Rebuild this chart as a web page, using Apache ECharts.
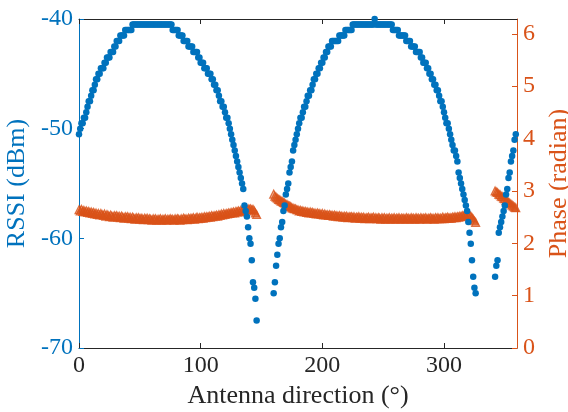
<!DOCTYPE html>
<html>
<head>
<meta charset="utf-8">
<script src="https://cdn.jsdelivr.net/npm/echarts@6/dist/echarts.min.js"></script>
<style>
  html, body { margin: 0; padding: 0; background: #fff; }
  #chart { width: 568px; height: 412px; }
</style>
</head>
<body>
<div id="chart"></div>
<script>
// Antenna sweep: RSSI (left axis, dBm) and phase (right axis, radian), sampled every 1 degree.
// Readings are grouped in three contiguous runs; the tag was not read between them.
const segmentStarts = [0, 160, 342];

const rssiSeg1 = [
  -50.5, -50.0, -49.5, -49.5, -49.0, -49.0, -48.5, -48.0, -47.5, -47.5,
  -47.0, -46.5, -46.5, -46.0, -45.5, -45.5, -45.0, -45.0, -44.5, -44.5,
  -44.5, -44.0, -44.0, -43.5, -43.5, -43.5, -43.0, -43.0, -43.0, -42.5,
  -42.5, -42.0, -42.0, -42.0, -41.5, -41.5, -41.5, -41.5, -41.0, -41.0,
  -41.0, -41.0, -41.0, -41.0, -40.5, -40.5, -40.5, -40.5, -40.5, -40.5,
  -40.5, -40.5, -40.5, -40.5, -40.5, -40.5, -40.5, -40.5, -40.5, -40.5,
  -40.5, -40.5, -40.5, -40.5, -40.5, -40.5, -40.5, -40.5, -40.5, -40.5,
  -40.5, -40.5, -40.5, -40.5, -40.5, -40.5, -40.5, -41.0, -41.0, -41.0,
  -41.0, -41.0, -41.5, -41.5, -41.5, -41.5, -42.0, -42.0, -42.0, -42.0,
  -42.5, -42.5, -42.5, -42.5, -43.0, -43.0, -43.0, -43.0, -43.5, -43.5,
  -44.0, -44.0, -44.0, -44.5, -44.5, -44.5, -45.0, -45.0, -45.0, -45.5,
  -45.5, -46.0, -46.0, -46.5, -46.5, -47.0, -47.5, -47.5, -48.0, -48.0,
  -48.5, -49.0, -49.0, -49.5, -50.0, -50.5, -51.0, -51.5, -52.0, -52.5,
  -53.0, -53.5, -54.0, -54.5, -55.0, -55.5, -57.0, -57.5, -58.0, -59.0,
  -60.0, -60.5, -62.0, -64.0, -64.5, -65.5, -67.5
];
const rssiSeg2 = [
  -65.0, -64.0, -62.5, -61.5, -60.5, -60.0, -59.0, -58.5, -57.5, -57.0,
  -56.0, -55.5, -55.0, -54.0, -53.5, -53.0, -52.0, -51.5, -51.0, -50.5,
  -50.0, -49.5, -49.0, -49.0, -48.5, -48.0, -48.0, -47.5, -47.0, -47.0,
  -46.5, -46.5, -46.0, -45.5, -45.5, -45.0, -45.0, -44.5, -44.5, -44.0,
  -44.0, -43.5, -43.5, -43.0, -43.0, -42.5, -42.5, -42.5, -42.0, -42.0,
  -42.0, -42.0, -42.0, -42.0, -41.5, -41.5, -41.5, -41.5, -41.5, -41.0,
  -41.0, -41.0, -41.0, -41.0, -41.0, -40.5, -40.5, -40.5, -40.5, -40.5,
  -40.5, -40.5, -40.5, -40.5, -40.5, -40.5, -40.5, -40.5, -40.5, -40.5,
  -40.5, -40.5, -40.5, -40.0, -40.5, -40.5, -40.5, -40.5, -40.5, -40.5,
  -40.5, -40.5, -40.5, -40.5, -40.5, -40.5, -40.5, -40.5, -41.0, -41.0,
  -41.0, -41.0, -41.0, -41.5, -41.5, -41.5, -41.5, -41.5, -41.5, -42.0,
  -42.0, -42.0, -42.0, -42.5, -42.5, -42.5, -42.5, -43.0, -43.0, -43.0,
  -43.0, -43.5, -43.5, -44.0, -44.0, -44.0, -44.5, -44.5, -45.0, -45.0,
  -45.5, -45.5, -46.0, -46.0, -46.5, -46.5, -47.0, -47.5, -47.5, -48.0,
  -48.5, -49.0, -49.5, -49.5, -50.0, -50.5, -51.0, -51.5, -52.0, -52.0,
  -52.5, -53.0, -54.0, -54.5, -55.0, -55.5, -56.0, -56.5, -57.0, -57.5,
  -58.5, -59.5, -60.5, -62.0, -63.5, -64.5, -65.0
];
const rssiSeg3 = [
  -63.5, -62.5, -62.0, -59.5, -59.0, -58.5, -58.0, -57.5, -57.0, -56.0,
  -55.5, -54.5, -54.0, -53.0, -52.5, -52.0, -51.0, -50.5
];

const phaseSeg1 = [
  2.64, 2.62, 2.65, 2.61, 2.63, 2.60, 2.62, 2.59, 2.61, 2.58,
  2.60, 2.57, 2.59, 2.56, 2.58, 2.55, 2.57, 2.54, 2.57, 2.55,
  2.53, 2.56, 2.52, 2.55, 2.53, 2.51, 2.54, 2.52, 2.50, 2.53,
  2.51, 2.53, 2.50, 2.52, 2.49, 2.52, 2.50, 2.48, 2.51, 2.49,
  2.51, 2.48, 2.50, 2.47, 2.50, 2.48, 2.46, 2.49, 2.47, 2.49,
  2.46, 2.48, 2.47, 2.45, 2.48, 2.46, 2.48, 2.45, 2.47, 2.46,
  2.44, 2.47, 2.45, 2.47, 2.44, 2.46, 2.45, 2.47, 2.44, 2.46,
  2.45, 2.47, 2.44, 2.46, 2.45, 2.47, 2.45, 2.46, 2.44, 2.47,
  2.45, 2.47, 2.46, 2.44, 2.47, 2.45, 2.48, 2.46, 2.47, 2.45,
  2.48, 2.46, 2.48, 2.47, 2.49, 2.46, 2.48, 2.50, 2.47, 2.49,
  2.48, 2.50, 2.48, 2.51, 2.49, 2.51, 2.50, 2.52, 2.50, 2.53,
  2.51, 2.53, 2.52, 2.54, 2.52, 2.55, 2.53, 2.56, 2.54, 2.57,
  2.55, 2.57, 2.56, 2.58, 2.57, 2.59, 2.58, 2.60, 2.58, 2.61,
  2.60, 2.62, 2.60, 2.63, 2.62, 2.64, 2.63, 2.65, 2.64, 2.66,
  2.65, 2.66, 2.64, 2.65, 2.62, 2.58, 2.55
];
const phaseSeg2 = [
  2.94, 2.90, 2.88, 2.86, 2.84, 2.83, 2.81, 2.80, 2.78, 2.77,
  2.75, 2.74, 2.72, 2.71, 2.70, 2.68, 2.67, 2.66, 2.66, 2.64,
  2.64, 2.62, 2.63, 2.61, 2.62, 2.60, 2.61, 2.59, 2.60, 2.58,
  2.60, 2.58, 2.59, 2.57, 2.58, 2.56, 2.58, 2.56, 2.57, 2.55,
  2.57, 2.54, 2.56, 2.54, 2.55, 2.53, 2.55, 2.53, 2.54, 2.52,
  2.54, 2.52, 2.53, 2.51, 2.53, 2.51, 2.52, 2.50, 2.52, 2.50,
  2.52, 2.49, 2.51, 2.50, 2.51, 2.49, 2.51, 2.48, 2.50, 2.49,
  2.51, 2.48, 2.50, 2.48, 2.50, 2.47, 2.49, 2.48, 2.50, 2.47,
  2.49, 2.48, 2.50, 2.47, 2.49, 2.47, 2.49, 2.48, 2.46, 2.49,
  2.47, 2.49, 2.46, 2.48, 2.47, 2.49, 2.46, 2.48, 2.47, 2.49,
  2.46, 2.48, 2.47, 2.49, 2.46, 2.48, 2.47, 2.48, 2.46, 2.49,
  2.47, 2.48, 2.46, 2.49, 2.47, 2.48, 2.46, 2.49, 2.47, 2.48,
  2.46, 2.49, 2.47, 2.48, 2.47, 2.49, 2.46, 2.48, 2.47, 2.49,
  2.47, 2.48, 2.46, 2.49, 2.47, 2.49, 2.47, 2.48, 2.47, 2.50,
  2.47, 2.49, 2.48, 2.50, 2.48, 2.49, 2.48, 2.50, 2.49, 2.51,
  2.49, 2.51, 2.50, 2.52, 2.51, 2.53, 2.52, 2.54, 2.53, 2.55,
  2.53, 2.54, 2.52, 2.49, 2.46, 2.43, 2.40
];
const phaseSeg3 = [
  3.00, 2.98, 2.97, 2.94, 2.93, 2.90, 2.89, 2.86, 2.85, 2.82,
  2.81, 2.78, 2.77, 2.75, 2.73, 2.71, 2.69, 2.68
];

const xTicks = [0, 100, 200, 300];
const rssiTicks = [-70, -60, -50, -40];
const phaseTicks = [0, 1, 2, 3, 4, 5, 6];

const BLUE = '#0072BD';
const ORANGE = '#D95319';
const INK = '#262626';
const FONT = '"Liberation Serif", "Times New Roman", serif';

// Pair each run of readings with its angles (1 degree apart from the run's start).
function toPoints(runs) {
  const pts = [];
  runs.forEach((run, k) => {
    run.forEach((v, i) => pts.push([segmentStarts[k] + i, v]));
  });
  return pts;
}
const rssiPoints = toPoints([rssiSeg1, rssiSeg2, rssiSeg3]);
const phasePoints = toPoints([phaseSeg1, phaseSeg2, phaseSeg3]);

const chart = echarts.init(document.getElementById('chart'), null, { renderer: 'canvas' });

const baseLabel = { fontFamily: FONT, fontSize: 24 };

chart.setOption({
  animation: false,
  backgroundColor: '#fff',
  grid: { left: 79, right: 51, top: 19, bottom: 64, containLabel: false, outerBoundsMode: 'none' },
  xAxis: [
    {
      type: 'value', min: 0, max: 360, position: 'bottom',
      name: 'Antenna direction (°)', nameLocation: 'middle', nameGap: 34,
      nameTextStyle: { fontFamily: FONT, fontSize: 26, color: INK },
      axisLine: { onZero: false, lineStyle: { color: INK, width: 1 } },
      axisTick: { inside: true, length: 5, customValues: xTicks, lineStyle: { color: INK } },
      axisLabel: Object.assign({ customValues: xTicks, color: INK, margin: 6 }, baseLabel),
      splitLine: { show: false }
    },
    {
      type: 'value', min: 0, max: 360, position: 'top',
      axisLine: { onZero: false, lineStyle: { color: INK, width: 1 } },
      axisTick: { inside: true, length: 5, customValues: xTicks, lineStyle: { color: INK } },
      axisLabel: { show: false },
      splitLine: { show: false }
    }
  ],
  yAxis: [
    {
      type: 'value', min: -70, max: -40, position: 'left',
      name: 'RSSI (dBm)', nameLocation: 'middle', nameGap: 44, nameRotate: 90,
      nameTextStyle: { fontFamily: FONT, fontSize: 26, color: BLUE },
      axisLine: { show: true, onZero: false, lineStyle: { color: BLUE, width: 1 } },
      axisTick: { inside: true, length: 5, customValues: rssiTicks, lineStyle: { color: BLUE } },
      axisLabel: Object.assign({ customValues: rssiTicks, color: BLUE, margin: 6 }, baseLabel),
      splitLine: { show: false }
    },
    {
      type: 'value', min: 0, max: 2 * Math.PI, position: 'right',
      name: 'Phase (radian)', nameLocation: 'middle', nameGap: 27, nameRotate: 90,
      nameTextStyle: { fontFamily: FONT, fontSize: 26, color: ORANGE },
      axisLine: { show: true, onZero: false, lineStyle: { color: ORANGE, width: 1 } },
      axisTick: { inside: true, length: 5, customValues: phaseTicks, lineStyle: { color: ORANGE } },
      axisLabel: Object.assign({ customValues: phaseTicks, color: ORANGE, margin: 6 }, baseLabel),
      splitLine: { show: false }
    }
  ],
  series: [
    {
      name: 'Phase', type: 'scatter', xAxisIndex: 0, yAxisIndex: 1,
      data: phasePoints, symbol: 'triangle', symbolSize: 8,
      itemStyle: { color: 'rgba(217,83,25,0.6)', borderColor: ORANGE, borderWidth: 1.2 },
      z: 2
    },
    {
      name: 'RSSI', type: 'scatter', xAxisIndex: 0, yAxisIndex: 0,
      data: rssiPoints, symbol: 'circle', symbolSize: 6.5,
      itemStyle: { color: BLUE, opacity: 1 },
      z: 3
    }
  ]
});
</script>
</body>
</html>
